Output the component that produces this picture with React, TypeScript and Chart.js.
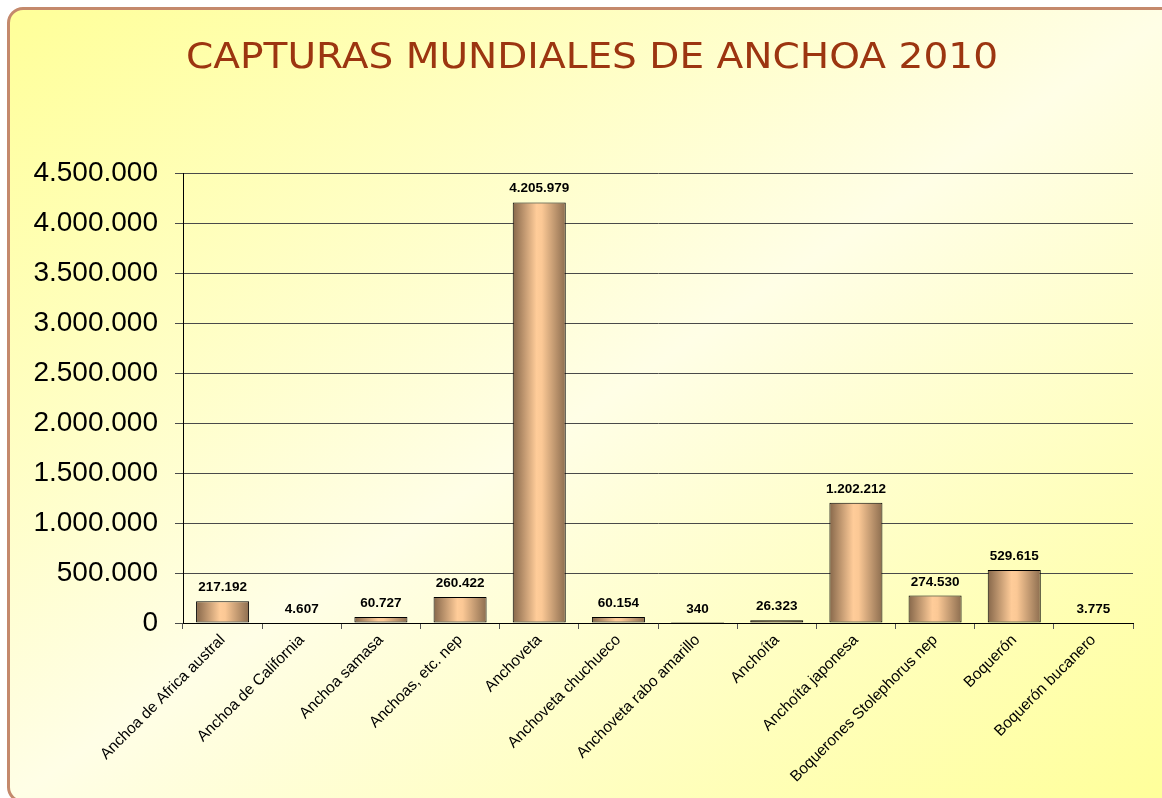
import React, { useEffect, useRef } from 'react';
import { Chart, registerables } from 'chart.js';

Chart.register(...registerables);

const TITLE = 'CAPTURAS MUNDIALES DE ANCHOA 2010';

const categories: string[] = [
  'Anchoa de Africa austral',
  'Anchoa de California',
  'Anchoa samasa',
  'Anchoas, etc. nep',
  'Anchoveta',
  'Anchoveta chuchueco',
  'Anchoveta rabo amarillo',
  'Anchoíta',
  'Anchoíta japonesa',
  'Boquerones Stolephorus nep',
  'Boquerón',
  'Boquerón bucanero',
];

const capturas: number[] = [
  217192, 4607, 60727, 260422, 4205979, 60154, 340, 26323, 1202212, 274530, 529615, 3775,
];

const Y_MIN = 0;
const Y_MAX = 4500000;
const Y_STEP = 500000;

const BAR_PCT = 0.67;
const FONT = '"Liberation Sans", Arial, sans-serif';

const fmt = (n: number) => String(Math.round(n)).replace(/\B(?=(\d{3})+(?!\d))/g, '.');

const titlePlugin = {
  id: 'customTitle',
  afterDraw(chart: any) {
    const ctx = chart.ctx as CanvasRenderingContext2D;
    ctx.save();
    ctx.font = '36px "DejaVu Sans", sans-serif';
    const w = ctx.measureText(TITLE).width;
    const target = 812;
    ctx.translate(592, 68);
    ctx.scale(target / w, 1);
    ctx.textAlign = 'center';
    ctx.textBaseline = 'alphabetic';
    ctx.fillStyle = '#9c3510';
    ctx.fillText(TITLE, 0, 0);
    ctx.restore();
  },
};

const valueLabelPlugin = {
  id: 'valueLabels',
  afterDatasetsDraw(chart: any) {
    const ctx = chart.ctx as CanvasRenderingContext2D;
    const meta = chart.getDatasetMeta(0);
    const data = chart.data.datasets[0].data as number[];
    ctx.save();
    ctx.font = `bold 13.5px ${FONT}`;
    ctx.fillStyle = '#000';
    ctx.textAlign = 'center';
    ctx.textBaseline = 'alphabetic';
    meta.data.forEach((el: any, i: number) => {
      ctx.fillText(fmt(data[i]), el.x, el.y - 10);
    });
    ctx.restore();
  },
};

export default function App() {
  const canvasRef = useRef<HTMLCanvasElement | null>(null);

  useEffect(() => {
    if (!canvasRef.current) return;
    document.body.style.margin = '0';
    const chart = new Chart(canvasRef.current, {
      type: 'bar',
      data: {
        labels: categories,
        datasets: [
          {
            label: 'Capturas',
            data: capturas,
            backgroundColor: (c: any) => {
              const ch = c.chart;
              const xs = ch.scales?.x;
              if (!xs || !ch.chartArea || c.dataIndex === undefined) return '#f5c08f';
              const cx = xs.getPixelForValue(c.dataIndex);
              const w = (xs.width / categories.length) * BAR_PCT;
              const g = ch.ctx.createLinearGradient(cx - w / 2, 0, cx + w / 2, 0);
              g.addColorStop(0, '#86674a');
              g.addColorStop(0.45, '#ffcc99');
              g.addColorStop(0.55, '#fbc895');
              g.addColorStop(1, '#8c6d4f');
              return g;
            },
            borderColor: '#000000',
            borderWidth: 1,
            borderSkipped: false,
            barPercentage: BAR_PCT,
            categoryPercentage: 1.0,
          },
        ],
      },
      options: {
        responsive: true,
        maintainAspectRatio: false,
        animation: false,
        layout: { padding: { top: 173, right: 29, left: 0, bottom: 0 } },
        plugins: {
          legend: { display: false },
          tooltip: { enabled: false },
          title: { display: false },
        },
        scales: {
          x: {
            type: 'category',
            grid: {
              offset: true,
              drawOnChartArea: false,
              drawTicks: true,
              tickLength: 6,
              color: '#555555',
            },
            border: { color: '#000000', width: 1 },
            ticks: {
              autoSkip: false,
              maxRotation: 45,
              minRotation: 45,
              padding: 2,
              color: '#000000',
              font: { family: FONT, size: 15.5 },
            },
            afterFit: (s: any) => {
              s.height = 175;
            },
          },
          y: {
            min: Y_MIN,
            max: Y_MAX,
            grid: {
              color: '#4a4a4a',
              drawTicks: true,
              tickLength: 8,
            },
            border: { color: '#000000', width: 1 },
            ticks: {
              stepSize: Y_STEP,
              padding: 17,
              color: '#000000',
              font: { family: FONT, size: 28 },
              callback: (v: any) => fmt(Number(v)),
            },
            afterFit: (s: any) => {
              s.width = 183;
            },
          },
        },
      },
      plugins: [titlePlugin, valueLabelPlugin],
    });
    return () => chart.destroy();
  }, []);

  return (
    <div style={{ position: 'fixed', left: 0, top: 0, width: 1162, height: 798, overflow: 'hidden', background: '#ffffff' }}>
      <div
        style={{
          position: 'absolute',
          left: 7,
          top: 7,
          width: 1170,
          height: 790,
          border: '3px solid #c4896c',
          borderRadius: 16,
          background: 'linear-gradient(to bottom right, #ffff99 0%, #fffee6 50%, #ffff99 100%)',
        }}
      />
      <div style={{ position: 'absolute', left: 0, top: 0, width: 1162, height: 798 }}>
        <canvas ref={canvasRef} />
      </div>
    </div>
  );
}
